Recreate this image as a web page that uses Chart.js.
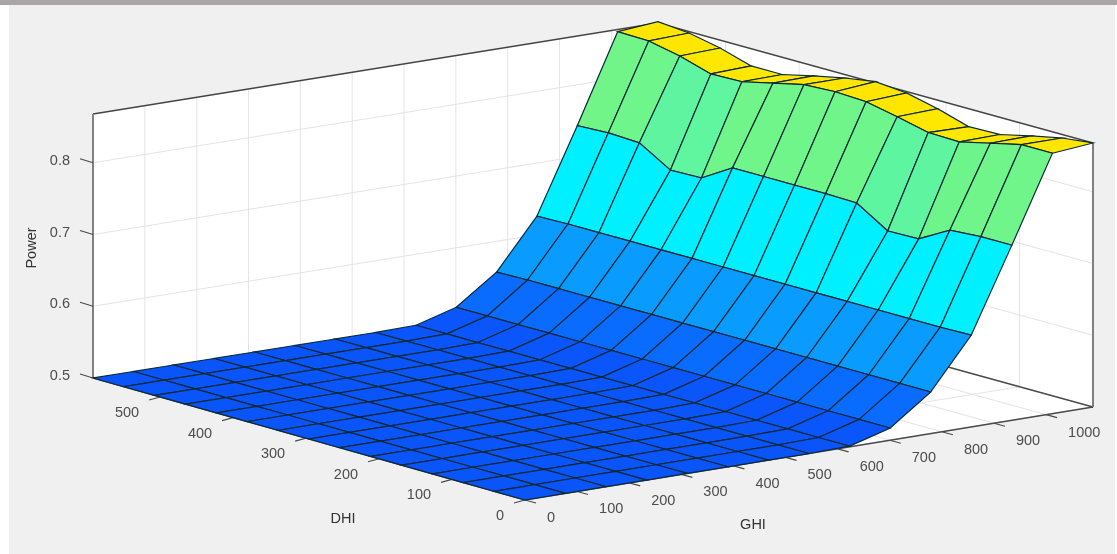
<!DOCTYPE html>
<html><head><meta charset="utf-8">
<style>
html,body{margin:0;padding:0;background:#fff;overflow:hidden}
#panel{position:absolute;left:9px;top:0;right:2px;bottom:0;background:#f0f0f0}
#bar{position:absolute;left:0;top:0;right:0;height:5px;background:#aaa6a5}
canvas{position:absolute;left:0;top:0}
</style>
<script src="https://cdn.jsdelivr.net/npm/chart.js@4"></script>
</head><body>
<div id="panel"></div><div id="bar"></div>
<canvas id="c" width="1117" height="554"></canvas>
<script>
const ghiTicks=[0,100,200,300,400,500,600,700,800,900,1000];
const dhiTicks=[0,100,200,300,400,500];
const powerTicks=[0.5,0.6,0.7,0.8];
const ghiMax=1090, dhiMax=592, powerMin=0.5, powerMax=0.868;
// power[i][j]: i = GHI grid row (0..14), j = DHI grid column (0..14)
const flat=[0.5,0.5,0.5,0.5,0.5,0.5,0.5,0.5,0.5,0.5,0.5,0.5,0.5,0.5,0.5];
const power=[flat,flat,flat,flat,flat,flat,flat,flat,
 [0.501,0.501,0.501,0.501,0.501,0.501,0.501,0.501,0.501,0.501,0.501,0.501,0.501,0.501,0.501],
 [0.517,0.517,0.517,0.517,0.517,0.517,0.517,0.517,0.517,0.517,0.517,0.517,0.517,0.517,0.517],
 [0.558,0.558,0.558,0.558,0.558,0.558,0.558,0.558,0.558,0.558,0.558,0.558,0.558,0.558,0.557],
 [0.628,0.627,0.627,0.627,0.627,0.627,0.627,0.627,0.627,0.627,0.627,0.627,0.627,0.627,0.626],
 [0.744,0.744,0.741,0.717,0.716,0.743,0.744,0.744,0.744,0.744,0.718,0.717,0.743,0.745,0.743],
 [0.863,0.863,0.853,0.843,0.844,0.854,0.863,0.865,0.863,0.853,0.843,0.842,0.855,0.864,0.865],
 [0.868,0.863,0.854,0.844,0.843,0.856,0.866,0.870,0.863,0.854,0.844,0.844,0.857,0.866,0.870]];
const colorStops=[[0.5,[10,85,250]],[0.517,[10,108,255]],[0.558,[10,155,255]],[0.627,[0,240,255]],[0.717,[95,245,160]],[0.744,[111,245,138]],[0.84,[255,232,0]],[0.87,[255,228,0]]];

// view: corners of the floor and wall height in the picture plane
const corner={O:[525,500],U:[1093,407],V:[93,378],B:[658,287]}, wallH=264;
function project(g,d,p){
  const u=g/ghiMax,v=d/dhiMax,w=(p-powerMin)/(powerMax-powerMin);
  const f=k=>corner.O[k]*(1-u)*(1-v)+corner.U[k]*u*(1-v)+corner.V[k]*(1-u)*v+corner.B[k]*u*v;
  return {x:f(0),y:f(1)-w*wallH};
}
function colorFor(z){
  for(let k=1;k<colorStops.length;k++){
    const [a,ca]=colorStops[k-1],[b,cb]=colorStops[k];
    if(z<=b){const t=(z-a)/(b-a);return `rgb(${ca.map((c,n)=>Math.round(c+(cb[n]-c)*t)).join(',')})`;}
  }
  return 'rgb(255,228,0)';
}
const list=[]; // back to front
const shape=(pts,fill)=>list.push({data:[...pts,pts[0]],showLine:true,fill:'shape',backgroundColor:fill,borderColor:'rgba(0,0,0,0)',borderWidth:0,pointRadius:0,tension:0});
const line=(pts,col,w)=>list.push({data:pts,showLine:true,fill:false,borderColor:col,borderWidth:w,pointRadius:0,tension:0});
const G=ghiMax,D=dhiMax,Z0=powerMin,Z1=powerMax;
// walls and floor
shape([project(0,D,Z0),project(G,D,Z0),project(G,D,Z1),project(0,D,Z1)],'#ffffff');
shape([project(G,0,Z0),project(G,D,Z0),project(G,D,Z1),project(G,0,Z1)],'#ffffff');
shape([project(0,0,Z0),project(G,0,Z0),project(G,D,Z0),project(0,D,Z0)],'#ffffff');
const gridCol='#e4e4e4';
ghiTicks.forEach(g=>{line([project(g,D,Z0),project(g,D,Z1)],gridCol,1);line([project(g,0,Z0),project(g,D,Z0)],gridCol,1);});
dhiTicks.forEach(d=>{line([project(G,d,Z0),project(G,d,Z1)],gridCol,1);line([project(0,d,Z0),project(G,d,Z0)],gridCol,1);});
powerTicks.forEach(p=>{line([project(0,D,p),project(G,D,p),project(G,0,p)],gridCol,1);});
// box edges
line([project(0,D,Z1),project(G,D,Z1),project(G,0,Z1)],'#444444',1.3);
line([project(G,D,Z0),project(G,0,Z0)],'#4a4a4a',1.3);
line([project(0,D,Z0),project(0,D,Z1)],'#808080',2);
line([project(G,0,Z0),project(G,0,Z1)],'#808080',2);
line([project(0,0,Z0),project(G,0,Z0)],'#4a4a4a',1.3);
line([project(0,0,Z0),project(0,D,Z0)],'#4a4a4a',1.3);
// tick marks
const off=(a,dx,dy)=>({x:a.x+dx,y:a.y+dy});
ghiTicks.forEach(g=>{const a=project(g,0,Z0);line([a,off(a,11,3)],'#4a4a4a',1.2);});
dhiTicks.forEach(d=>{const a=project(0,d,Z0);line([a,off(a,-11,3)],'#4a4a4a',1.2);});
powerTicks.forEach(p=>{const a=project(0,D,p);line([a,off(a,-13,-4)],'#4a4a4a',1.2);});
// surface, far cells first
const N=power.length-1;
const gv=i=>i/N*ghiMax, dv=j=>j/N*dhiMax;
for(let i=N-1;i>=0;i--)for(let j=N-1;j>=0;j--){
  const pts=[[i,j],[i+1,j],[i+1,j+1],[i,j+1]].map(([a,b])=>project(gv(a),dv(b),power[a][b]));
  list.push({data:[...pts,pts[0]],showLine:true,fill:'shape',backgroundColor:colorFor(power[i][j]),borderColor:'#0b2a3a',borderWidth:1.2,pointRadius:0,tension:0});
}
const textPlugin={id:'axisText',afterDraw(chart){
  const c=chart.ctx,X=chart.scales.x,Y=chart.scales.y;
  const at=(pt,dx,dy)=>[X.getPixelForValue(pt.x)+dx,Y.getPixelForValue(pt.y)+dy];
  c.save();c.fillStyle='#4d4d4d';c.font='14.5px "Liberation Sans"';c.textBaseline='middle';
  c.textAlign='left';
  ghiTicks.forEach(g=>c.fillText(String(g),...at(project(g,0,Z0),22,18)));
  c.textAlign='right';
  dhiTicks.forEach(d=>c.fillText(String(d),...at(project(0,d,Z0),-21,16)));
  powerTicks.forEach(p=>c.fillText(p.toFixed(1),...at(project(0,D,p),-23,-2)));
  c.textAlign='center';c.fillStyle='#333333';
  c.fillText('DHI',343,519);c.fillText('GHI',753,525);
  c.translate(32,248);c.rotate(-Math.PI/2);c.fillText('Power',0,0);
  c.restore();
}};
new Chart(document.getElementById('c'),{type:'scatter',
 data:{datasets:list.reverse()},
 options:{responsive:false,animation:false,events:[],layout:{padding:0},
  plugins:{legend:{display:false},tooltip:{enabled:false},title:{display:false}},
  scales:{x:{type:'linear',min:0,max:1117,display:false},y:{type:'linear',min:0,max:554,reverse:true,display:false}}},
 plugins:[textPlugin]});
</script></body></html>
